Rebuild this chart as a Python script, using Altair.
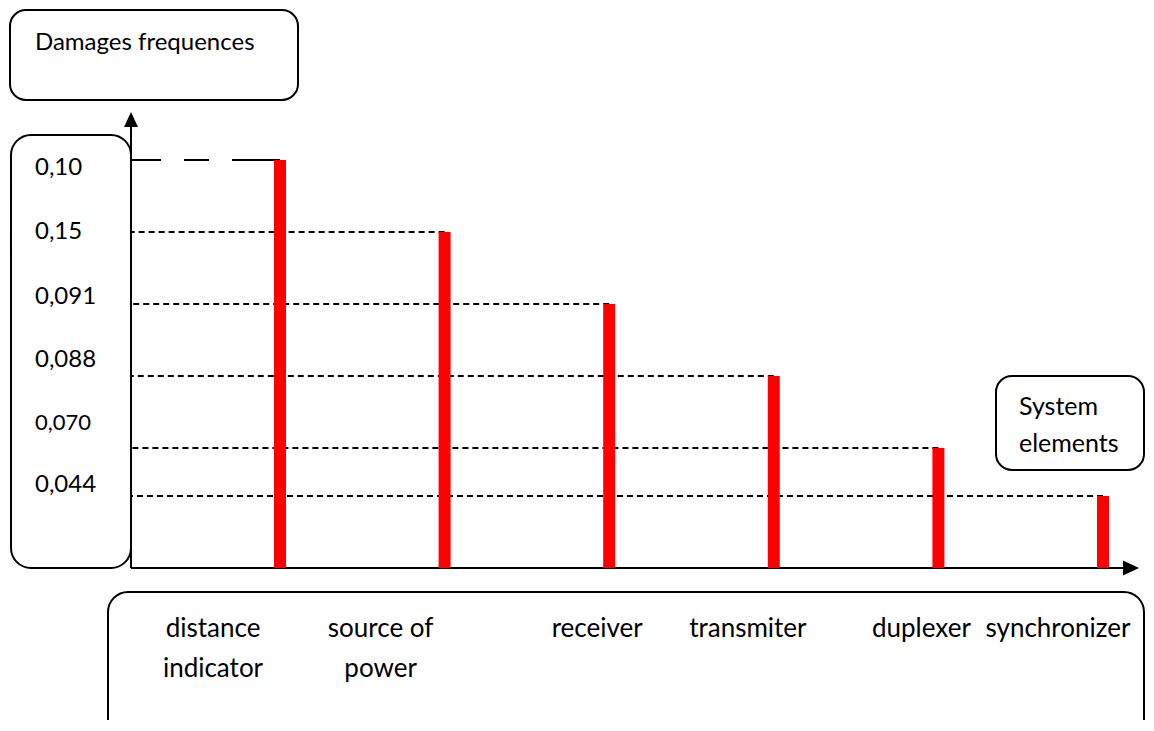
import altair as alt
import pandas as pd

# ---- data ----
elements = ["distance indicator", "source of power", "receiver",
            "transmiter", "duplexer", "synchronizer"]
# bar heights as drawn (arbitrary drawing units)
bar_heights = [17, 14, 11, 8, 5, 3]
# labels written on the vertical axis, one per bar level
freq_labels = ["0,10", "0,15", "0,091", "0,088", "0,070", "0,044"]
# element names written under the horizontal axis
element_labels = ["distance\nindicator", "source of\npower", "receiver",
                  "transmiter", "duplexer", "synchronizer"]

df = pd.DataFrame({
    "element": elements,
    "height": bar_heights,
    "freq": freq_labels,
    "label": element_labels,
    "order": list(range(len(elements))),
})
one = pd.DataFrame({"k": [0]})

# ---- style ----
FONT = "Lato"
FS = 24
W, H = 1138, 712
AX_X = 123      # vertical axis position (px)
AX_Y = 560      # horizontal axis position (px)

xs = alt.Scale(type="point", domain=elements, range=[272, 1095], padding=0)
ys = alt.Scale(domain=[0, 17], range=[AX_Y, 152])
X = alt.X("element:N", scale=xs, axis=None)
Y = alt.Y("height:Q", scale=ys, axis=None)


def box(x1, y1, x2, y2, r):
    return alt.Chart(one).mark_rect(
        fill="white", stroke="black", strokeWidth=2, cornerRadius=r
    ).encode(x=alt.value(x1), x2=alt.value(x2), y=alt.value(y1), y2=alt.value(y2))


def note(text, x, y, size=FS):
    return alt.Chart(pd.DataFrame({"t": [text]})).mark_text(
        font=FONT, fontSize=size, align="left", baseline="alphabetic",
        lineBreak="\n", lineHeight=37, color="black"
    ).encode(x=alt.value(x), y=alt.value(y), text="t:N")


boxes = [
    box(2, 2, 290, 92, 16),
    box(3, 127, AX_X, AX_Y, 20),
    box(100, 584, 1136, 800, 20),
    box(988, 368, 1136, 462, 16),
]

y_axis = alt.Chart(one).mark_rule(color="black", strokeWidth=2).encode(
    x=alt.value(AX_X), y=alt.value(112), y2=alt.value(AX_Y))
x_axis = alt.Chart(one).mark_rule(color="black", strokeWidth=2).encode(
    x=alt.value(AX_X), x2=alt.value(1118), y=alt.value(AX_Y))
y_arrow = alt.Chart(one).mark_point(
    shape="M0,-1L0.93,1L-0.93,1Z", filled=True, color="black", opacity=1, size=225
).encode(x=alt.value(AX_X), y=alt.value(111.5))
x_arrow = alt.Chart(one).mark_point(
    shape="M1,0L-1,0.94L-1,-0.94Z", filled=True, color="black", opacity=1, size=256
).encode(x=alt.value(1123), y=alt.value(AX_Y))

guide_first = alt.Chart(df).transform_filter(alt.datum.order == 0).mark_rule(
    color="black", strokeWidth=2, strokeDash=[48, 23, 25, 23]
).encode(x=X, x2=alt.value(AX_X), y=Y)
guide_rest = alt.Chart(df).transform_filter(alt.datum.order > 0).mark_rule(
    color="black", strokeWidth=2, strokeDash=[6, 4]
).encode(x=X, x2=alt.value(AX_X), y=Y)

bars = alt.Chart(df).mark_bar(color="#ff0000", size=12).encode(x=X, y=Y)

# per-label nudges (the hand-drawn labels are not exactly aligned)
tick_dy = [7.5, 0, -7, -16, -25, -11]
tick_fs = [FS, FS, FS, FS, FS - 2, FS]
tick_layers = []
for i in range(len(elements)):
    tick_layers.append(
        alt.Chart(df).transform_filter(alt.datum.order == i).mark_text(
            font=FONT, fontSize=tick_fs[i], align="left", baseline="middle",
            dy=tick_dy[i], color="black"
        ).encode(x=alt.value(27), y=Y, text="freq:N")
    )

label_dx = [-67, -64, -12, -26, -17, -45]
label_layers = []
for i in range(len(elements)):
    label_layers.append(
        alt.Chart(df).transform_filter(alt.datum.order == i).mark_text(
            font=FONT, fontSize=26, align="center", baseline="alphabetic",
            lineBreak="\n", lineHeight=40, dx=label_dx[i], color="black"
        ).encode(x=X, y=alt.value(629), text="label:N")
    )

titles = [
    note("Damages frequences", 27, 42),
    note("System\nelements", 1011, 407, size=25),
]

chart = alt.layer(
    *boxes, guide_first, guide_rest, y_axis, x_axis, y_arrow, x_arrow, bars,
    *tick_layers, *label_layers, *titles
).properties(
    width=W, height=H, autosize=alt.AutoSizeParams(type="none"), padding=0
).configure_view(strokeWidth=0)

chart.save("out.html", embed_options={"renderer": "svg", "actions": False})
